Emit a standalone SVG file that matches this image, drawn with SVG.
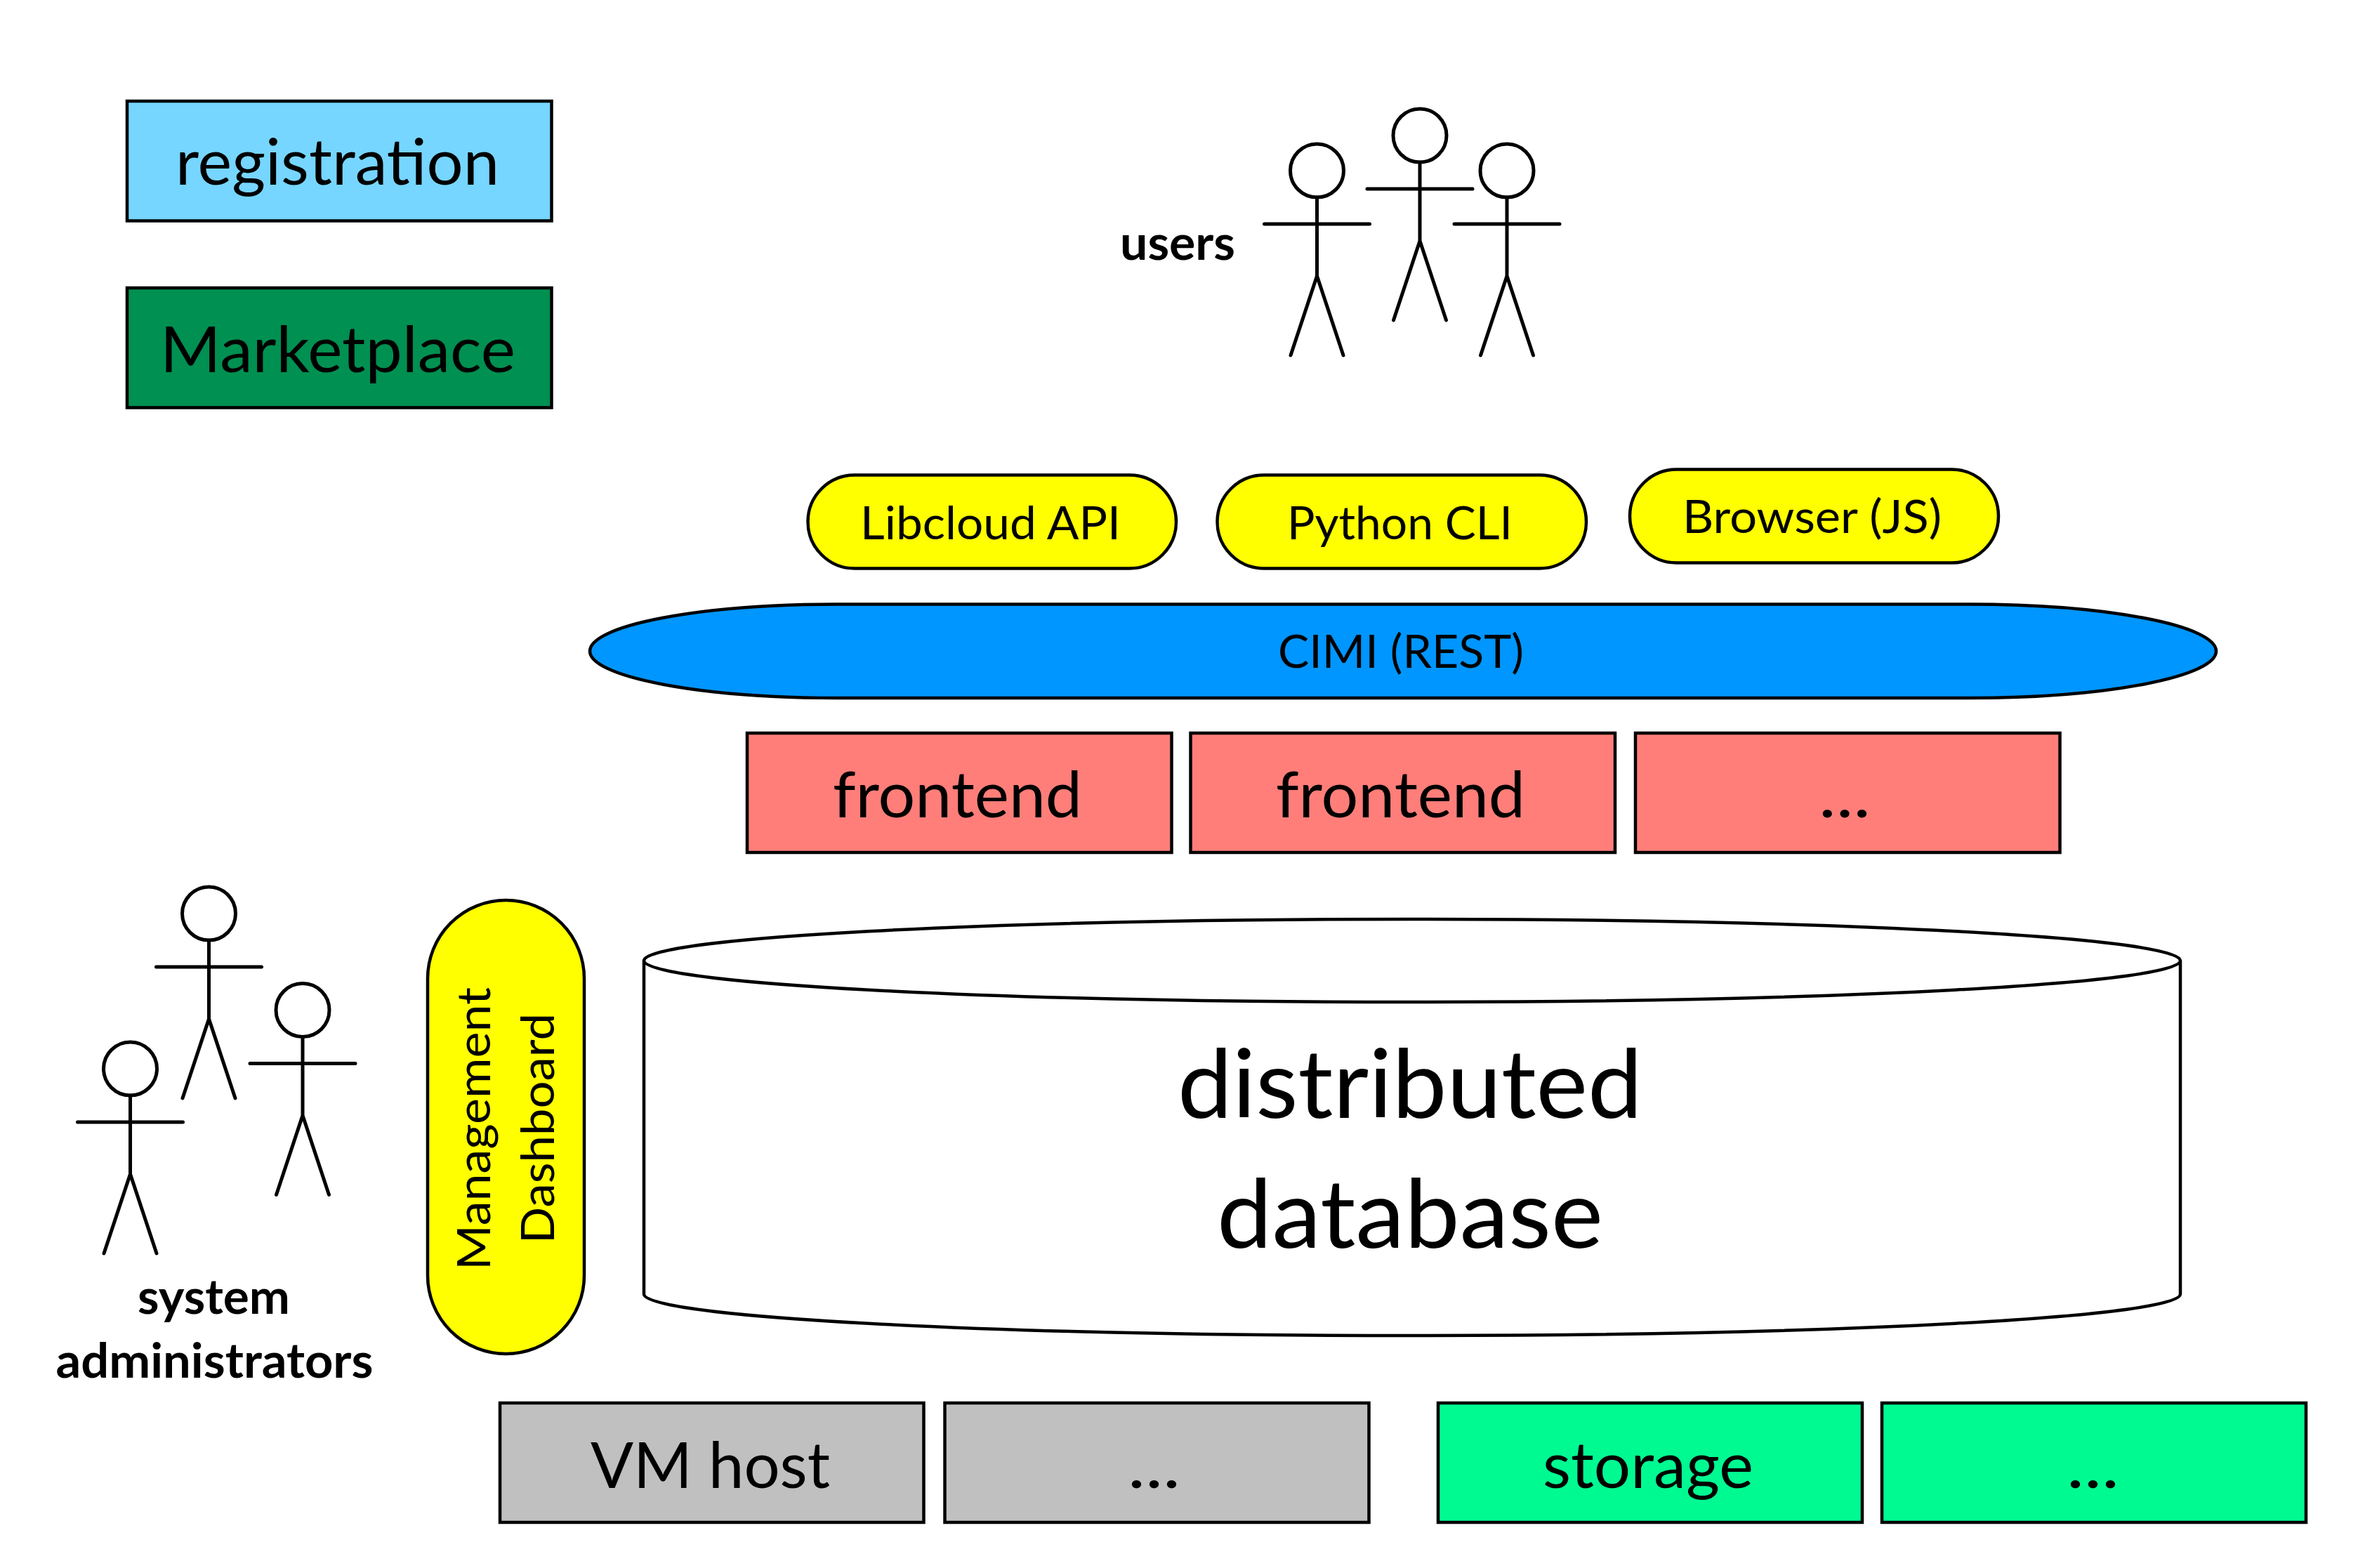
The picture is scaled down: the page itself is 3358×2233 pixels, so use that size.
<svg xmlns="http://www.w3.org/2000/svg" width="3358" height="2233" viewBox="0 0 3358 2233">
<style>
text{font-family:"Lato","Liberation Sans",sans-serif;fill:#000}
.b{stroke:#000;stroke-width:4.500}
.l{font-size:92px}
.m{font-size:66px}
.h{font-size:136px}
.u{font-size:68px;font-weight:700}
.fig{fill:none;stroke:#000;stroke-width:5;stroke-linecap:round}
</style>
<defs>
<g id="stick" class="fig">
<circle cx="0" cy="0" r="38" fill="#fff"/>
<path d="M0 38V150M-75 76H75M-37.500 263L0 150L37.500 263"/>
</g>
</defs>
<rect width="3358" height="2233" fill="#fff"/>
<g id="connectors"/>
<g id="registration"><rect class="b" x="181" y="144" width="604.500" height="170.500" fill="#76d6ff"/><text class="l" x="250" y="263" textLength="461" lengthAdjust="spacingAndGlyphs">registration</text></g>
<g id="marketplace"><rect class="b" x="181" y="410" width="604.500" height="170.500" fill="#009051"/><text class="l" x="228" y="530" textLength="506" lengthAdjust="spacingAndGlyphs">Marketplace</text></g>
<g id="users"><use href="#stick" x="1875.500" y="243"/><use href="#stick" x="2022" y="193"/><use href="#stick" x="2146" y="243"/><text class="u" x="1595" y="370" textLength="164" lengthAdjust="spacingAndGlyphs">users</text></g>
<g id="libcloud"><rect class="b" x="1150.500" y="676.500" width="524.500" height="133" rx="66.500" fill="#ff0"/><text class="m" x="1225" y="768" textLength="371" lengthAdjust="spacingAndGlyphs">Libcloud API</text></g>
<g id="python"><rect class="b" x="1733.500" y="676.500" width="525.500" height="133" rx="66.500" fill="#ff0"/><text class="m" x="1833" y="768" textLength="321" lengthAdjust="spacingAndGlyphs">Python CLI</text></g>
<g id="browser"><rect class="b" x="2321" y="668.500" width="525" height="133" rx="66.500" fill="#ff0"/><text class="m" x="2396" y="759" textLength="369" lengthAdjust="spacingAndGlyphs">Browser (JS)</text></g>
<g id="cimi"><rect class="b" x="840" y="860.500" width="2316" height="133.500" rx="352" ry="66.750" fill="#0096ff"/><text class="m" x="1820" y="951" textLength="350" lengthAdjust="spacingAndGlyphs">CIMI (REST)</text></g>
<g id="frontend1"><rect class="b" x="1064" y="1044" width="604.500" height="170" fill="#ff7e79"/><text class="l" x="1186" y="1164" textLength="355" lengthAdjust="spacingAndGlyphs">frontend</text></g>
<g id="frontend2"><rect class="b" x="1695.500" y="1044" width="604.500" height="170" fill="#ff7e79"/><text class="l" x="1817" y="1164" textLength="355" lengthAdjust="spacingAndGlyphs">frontend</text></g>
<g id="frontend3"><rect class="b" x="2329" y="1044" width="604.500" height="170" fill="#ff7e79"/><text class="l" x="2590" y="1164" textLength="74" lengthAdjust="spacingAndGlyphs">...</text></g>
<g id="database"><path class="b" fill="#fff" d="M917 1368A1094 59 0 0 1 3105 1368V1843A1094 59 0 0 1 917 1843Z"/><path class="b" fill="none" d="M917 1368A1094 59 0 0 0 3105 1368"/><text class="h" x="1677" y="1592" textLength="662" lengthAdjust="spacingAndGlyphs">distributed</text><text class="h" x="1733" y="1777" textLength="550" lengthAdjust="spacingAndGlyphs">database</text></g>
<g id="admins"><use href="#stick" x="297.500" y="1301"/><use href="#stick" x="431" y="1438.500"/><use href="#stick" x="185.500" y="1522"/><text class="u" x="196" y="1871" textLength="217" lengthAdjust="spacingAndGlyphs">system</text><text class="u" x="79.500" y="1962" textLength="452" lengthAdjust="spacingAndGlyphs">administrators</text></g>
<g id="dashboard"><rect class="b" x="609" y="1282" width="223" height="646" rx="111.500" fill="#ff0"/><text class="m" transform="translate(697.500 1809) rotate(-90)" textLength="403" lengthAdjust="spacingAndGlyphs">Management</text><text class="m" transform="translate(789 1771) rotate(-90)" textLength="328" lengthAdjust="spacingAndGlyphs">Dashboard</text></g>
<g id="vmhost"><rect class="b" x="712" y="1998" width="603.500" height="170" fill="#c0c0c0"/><text class="l" x="841" y="2119" textLength="341" lengthAdjust="spacingAndGlyphs">VM host</text></g>
<g id="vmmore"><rect class="b" x="1345.500" y="1998" width="604" height="170" fill="#c0c0c0"/><text class="l" x="1606" y="2119" textLength="75" lengthAdjust="spacingAndGlyphs">...</text></g>
<g id="storage"><rect class="b" x="2048" y="1998" width="604" height="170" fill="#00fa92"/><text class="l" x="2197" y="2119" textLength="300" lengthAdjust="spacingAndGlyphs">storage</text></g>
<g id="storagemore"><rect class="b" x="2680" y="1998" width="604" height="170" fill="#00fa92"/><text class="l" x="2943" y="2119" textLength="75" lengthAdjust="spacingAndGlyphs">...</text></g>
</svg>
